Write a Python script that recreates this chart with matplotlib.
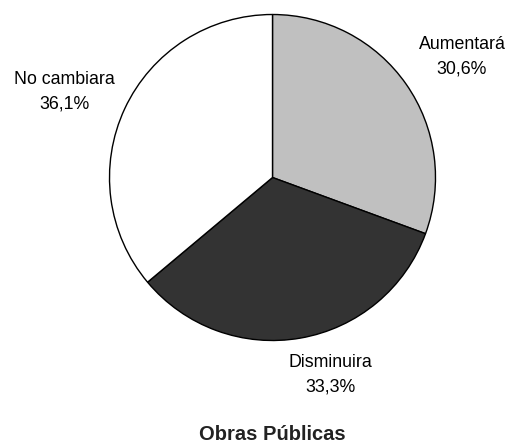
import matplotlib
matplotlib.use("Agg")
import matplotlib.pyplot as plt

labels = ["Aumentará", "Disminuira", "No cambiara"]
values = [30.6, 33.3, 36.1]
pct_text = ["30,6%", "33,3%", "36,1%"]
colors = ["#c0c0c0", "#333333", "#ffffff"]

plt.rcParams['font.family'] = ['Liberation Sans', 'DejaVu Sans']

fig = plt.figure(figsize=(5.10, 4.44), dpi=100)
# axes placed so the pie sits at center (272, 177) with radius ~163 px
r = 163
cx, cy = 272.5, 177.5
ax = fig.add_axes([(cx - r) / 510, 1 - (cy + r) / 444, 2 * r / 510, 2 * r / 444])

ax.pie(values, colors=colors, startangle=90, counterclock=False,
       wedgeprops={'edgecolor': 'black', 'linewidth': 1.0}, radius=1.0)
ax.set_xlim(-1, 1)
ax.set_ylim(-1, 1)
ax.set_aspect('auto')
ax.axis('off')

# label positions in pixels (center of text block)
label_pos = [(462, 57), (330, 375), (64, 92)]
for lab, pct, (px, py) in zip(labels, pct_text, label_pos):
    fig.text(px / 510, 1 - py / 444, lab + "\n" + pct, ha='center', va='center',
             fontsize=12.8, linespacing=1.55)

fig.text(cx / 510, 1 - 434 / 444, "Obras Públicas", ha='center', va='center',
         fontsize=14.5, fontweight='bold', color='#222222')

fig.savefig("out.png", dpi=100)
